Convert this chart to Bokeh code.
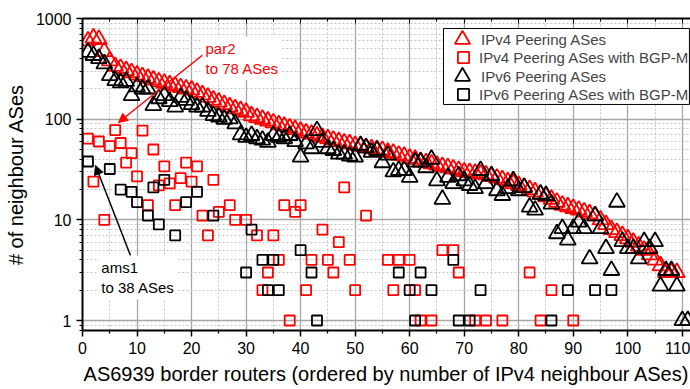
from bokeh.plotting import figure
from bokeh.models import (FixedTicker, LinearAxis, Label, Arrow, NormalHead,
                          Legend, LegendItem, Range1d, PrintfTickFormatter,
                          BoxAnnotation)
from bokeh.embed import file_html
from bokeh.resources import INLINE

FONT = "Liberation Sans"

# Number of IPv4 peering ASes per border router (routers sorted by this count)
ipv4_peering = [
    600, 640, 620, 470, 380, 335, 320, 305, 290, 275,
    265, 255, 245, 235, 228, 220, 213, 206, 200, 195,
    185, 175, 165, 155, 148, 140, 133, 127, 122, 117,
    108, 104, 100, 96, 92, 88, 85, 82, 79, 76,
    73, 71, 68, 66, 64, 62, 60, 58, 57, 55,
    54, 52, 51, 50, 49, 47, 46, 44, 43, 41,
    40, 38, 37, 36, 35, 34, 33, 32, 31, 30,
    29.5, 29, 28.5, 28, 27, 26, 25, 24, 23, 22,
    21, 20, 19, 18, 17, 16, 15, 14, 13.5, 13,
    12.5, 12, 11.5, 11, 10, 9, 8, 7.5, 7, 6.5,
    6, 5.5, 5, 4.5, 4, 3.5, 3, 3, 3,
]

# Number of IPv6 peering ASes on the same routers
ipv6_peering = [
    463, 430, 400, 355, 271, 242, 230, 238, 172, 210,
    200, 200, 137, 160, 172, 150, 132, 165, 154, 140,
    132, 132, 120, 109, 105, 100, 101, 90, 70, 66,
    69, 64, 62, 59, 69, 66, 64, 69, 60, 42,
    57, 51, 77, 59, 51, 49, 45, 45, 43, 42,
    55, 52, 47, 49, 37, 44, 30, 31, 31, 26.5,
    37.5, 37.5, 33, 40, 24.5, 16, 26.5, 23, 27.5, 24.5,
    22, 20.5, 31, 23, 27.5, 19.5, 17.5, 20.5, 24.5, 19.5,
    21, 13.4, 12.5, 18, 17.5, 14.4, 7.3, 8.2, 6.3, 8.2,
    9.5, 8.2, 4.1, 11, 8.2, 5.2, 3.15, 15, 6.1, 5.2,
    5.2, 4.1, 6.1, 5.2, 6.1, 2.2, 3.15, 3.15, 2.2, 1.0,
    1.0,
]

# IPv4 peering ASes reached with BGP-M (only routers with at least one)
ipv4_bgpm_router = [
    1, 2, 3, 4, 5, 6, 7, 8, 9, 10,
    11, 12, 13, 14, 15, 16, 17, 18, 19, 20,
    21, 22, 23, 24, 25, 27, 28, 30, 32, 33,
    34, 35, 36, 37, 38, 39, 40, 41, 42, 44,
    45, 46, 47, 48, 49, 50, 52, 56, 57, 58,
    60, 61, 62, 64, 66, 68, 69, 72, 74, 77,
    82, 84, 86, 90,
]
ipv4_bgpm_count = [
    64, 24, 60, 10, 54, 78, 58, 37, 46, 27,
    77, 14, 50, 22, 34, 23, 14, 26, 37, 24,
    34, 11, 7, 25, 12, 14, 10, 10, 7, 2,
    3, 7, 4, 14, 1, 12, 14, 2, 4, 8,
    4, 3, 6, 21, 4, 2, 11, 4, 2, 4,
    4, 2, 1, 1, 5, 5, 3, 1, 1, 1,
    3, 1, 2, 1,
]

# IPv6 peering ASes reached with BGP-M
ipv6_bgpm_router = [
    1, 5, 7, 9, 10, 12, 13, 14, 15, 17,
    19, 21, 24, 30, 31, 33, 34, 35, 36, 40,
    42, 43, 58, 60, 61, 62, 64, 68, 69, 71,
    73, 86, 89, 94, 97,
]
ipv6_bgpm_count = [
    38, 32, 20, 19, 15, 11, 21, 9, 25, 7,
    15, 19, 11, 3, 8, 4, 2, 4, 2, 5,
    3, 1, 3, 2, 1, 3, 2, 4, 1, 1,
    2, 1, 2, 2, 2,
]

series_labels = [
    "IPv4 Peering ASes",
    "IPv4 Peering ASes with BGP-M",
    "IPv6 Peering ASes",
    "IPv6 Peering ASes with BGP-M",
]

x_ticks = list(range(0, 111, 10))
x_minor = list(range(5, 111, 10))
y_ticks = [1, 10, 100, 1000]
y_minor = [0.8, 0.9] + [m * 10 ** k for k in range(0, 3) for m in range(2, 10)]

routers_v4 = list(range(1, len(ipv4_peering) + 1))
routers_v6 = list(range(1, len(ipv6_peering) + 1))

p = figure(width=690, height=389, y_axis_type="log",
           x_range=Range1d(0, 111.5), y_range=Range1d(0.796, 1000),
           output_backend="svg", toolbar_location=None,
           min_border_left=82, min_border_right=0,
           min_border_top=18, min_border_bottom=59)
p.outline_line_color = None
p.background_fill_color = "white"
p.border_fill_color = "white"

xticker = FixedTicker(ticks=x_ticks, minor_ticks=x_minor)
yticker = FixedTicker(ticks=y_ticks, minor_ticks=y_minor)
p.xaxis.ticker = xticker
p.yaxis.ticker = yticker
p.yaxis.formatter = PrintfTickFormatter(format="%d")

for ax in (p.xaxis[0], p.yaxis[0]):
    ax.axis_line_color = "black"
    ax.axis_line_width = 2
    ax.major_tick_line_color = "black"
    ax.major_tick_line_width = 1.5
    ax.minor_tick_line_color = "black"
    ax.minor_tick_line_width = 1.2
    ax.major_tick_in = 0
    ax.minor_tick_in = 0
    ax.major_tick_out = 6
    ax.minor_tick_out = 3
    ax.major_label_text_font = FONT
    ax.major_label_text_font_size = "16px"
    ax.major_label_text_color = "black"
    ax.major_label_standoff = 5
    ax.axis_label_text_font = FONT
    ax.axis_label_text_font_size = "20px"
    ax.axis_label_text_font_style = "normal"
    ax.axis_label_text_color = "black"
    ax.axis_label_standoff = 6

p.xaxis.axis_label = "AS6939 border routers (ordered by number of IPv4 neighbour ASes)"
p.yaxis.axis_label = "# of neighbour ASes"

top = LinearAxis(ticker=xticker, axis_line_color="black", axis_line_width=2,
                 major_tick_in=5, major_tick_out=0, minor_tick_in=3, minor_tick_out=0,
                 major_tick_line_color="black", minor_tick_line_color="black",
                 major_label_text_color=None, major_label_text_font_size="1px",
                 major_label_standoff=0)
p.add_layout(top, "above")

for g in (p.xgrid[0], p.ygrid[0]):
    g.grid_line_color = "#a6a6a6"
    g.grid_line_width = 1.3
    g.minor_grid_line_color = "#c4c4c4"
    g.minor_grid_line_width = 1
    g.minor_grid_line_dash = "2 2"

tri_v4 = p.scatter(routers_v4, ipv4_peering, marker="triangle", size=16,
                   line_color="#ff0000", fill_color=None, line_width=1.8)
tri_v6 = p.scatter(routers_v6, ipv6_peering, marker="triangle", size=16,
                   line_color="black", fill_color=None, line_width=1.8)
sq_v4 = p.scatter(ipv4_bgpm_router, ipv4_bgpm_count, marker="square", size=10,
                  line_color="#ff0000", fill_color=None, line_width=1.8)
sq_v6 = p.scatter(ipv6_bgpm_router, ipv6_bgpm_count, marker="square", size=10,
                  line_color="black", fill_color=None, line_width=1.8)

# callouts for the largest BGP-M router on each address family
p.add_layout(Arrow(end=NormalHead(size=9, fill_color="#ff0000", line_color="#ff0000"),
                   x_start=22.37, y_start=449, x_end=6.6, y_end=92.7,
                   line_color="#ff0000", line_width=1.5))
p.add_layout(Label(x=22.0, y=660, text="par2\nto 78 ASes", text_color="#ff0000",
                   text_font=FONT, text_font_size="15px", text_baseline="top",
                   text_line_height=1.2, background_fill_color="white", padding=3))

p.add_layout(Arrow(end=NormalHead(size=9, fill_color="black", line_color="black"),
                   x_start=8.8, y_start=4.42, x_end=2.38, y_end=34.7,
                   line_color="black", line_width=1.5))
p.add_layout(Label(x=2.9, y=4.4, text="ams1\nto 38 ASes", text_color="black",
                   text_font=FONT, text_font_size="15px", text_baseline="top",
                   text_line_height=1.2, background_fill_color="white", padding=3))

# legend frame: white panel in the upper right corner of the plot area
p.add_layout(BoxAnnotation(left=66.2, right=111.3, top=796, bottom=140,
                           fill_color="white", fill_alpha=1,
                           line_color="black", line_width=1, line_alpha=1))

# one single-row legend per series; the glyph box sets the marker size,
# larger for triangles than for squares
row_specs = [
    # (legend x, legend bottom, glyph box, label standoff)
    (361, 272, 38, -4),
    (367, 259, 28, 2),
    (361, 235, 38, -4),
    (367, 222, 28, 2),
]
for label, rend, (lx, yb, gb, so) in zip(series_labels,
                                         [tri_v4, sq_v4, tri_v6, sq_v6], row_specs):
    lg = Legend(items=[LegendItem(label=label, renderers=[rend])], location=(lx, yb))
    lg.label_text_font = FONT
    lg.label_text_font_size = "15px"
    lg.label_height = 18
    lg.glyph_height = gb
    lg.glyph_width = gb
    lg.spacing = 0
    lg.padding = 0
    lg.margin = 0
    lg.label_standoff = so
    lg.border_line_color = None
    lg.background_fill_alpha = 0
    p.add_layout(lg, "center")

open("out.html", "w").write(file_html(p, INLINE))
